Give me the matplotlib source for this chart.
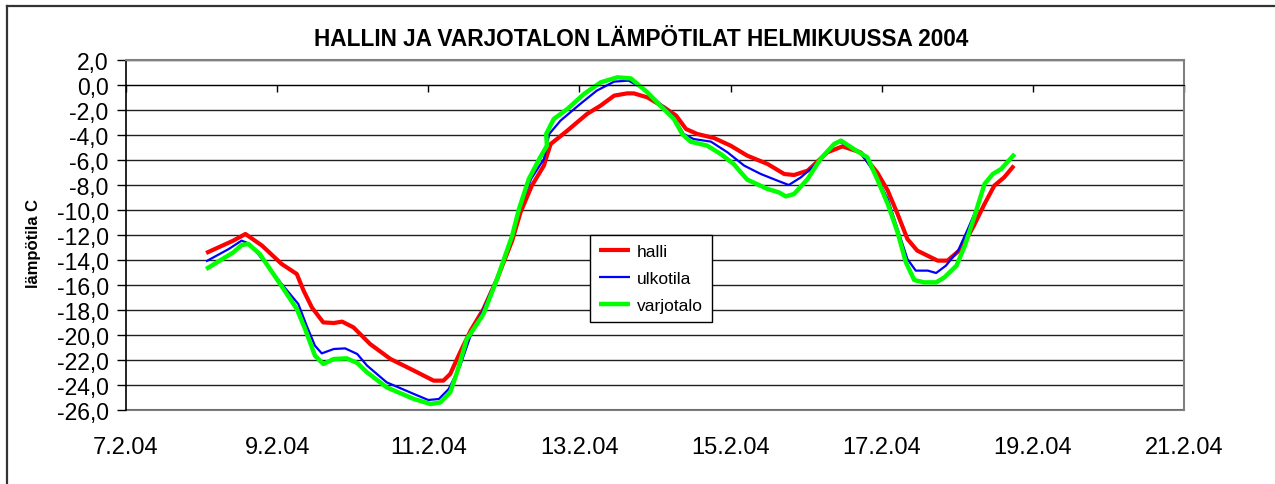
import matplotlib
matplotlib.use("Agg")
import matplotlib.pyplot as plt
from matplotlib.ticker import FuncFormatter
from matplotlib.lines import Line2D

plt.rcParams['font.family'] = ['Liberation Sans', 'DejaVu Sans']
plt.rcParams['axes.unicode_minus'] = False

# x = day of February 2004
halli_x = [8.06, 8.42, 8.58, 8.80, 9.06, 9.26, 9.35, 9.46, 9.61, 9.75, 9.86, 10.01, 10.23, 10.50,
           10.81, 11.07, 11.20, 11.29, 11.42, 11.56, 11.73, 11.91, 12.11, 12.22, 12.37, 12.53,
           12.57, 12.62, 12.84, 13.10, 13.28, 13.46, 13.63, 13.72, 13.90, 14.12, 14.28, 14.41,
           14.56, 14.78, 15.00, 15.22, 15.49, 15.71, 15.84, 16.02, 16.28, 16.48, 16.72, 16.94,
           17.08, 17.21, 17.34, 17.47, 17.74, 17.87, 18.05, 18.22, 18.36, 18.49, 18.62, 18.75]
halli = [-13.44, -12.45, -11.92, -12.85, -14.32, -15.12, -16.45, -17.8, -18.99, -19.04, -18.93,
         -19.39, -20.72, -21.92, -22.85, -23.65, -23.65, -23.12, -21.4, -19.65, -17.92, -15.52,
         -12.45, -10.19, -8.05, -6.45, -5.65, -4.72, -3.65, -2.32, -1.65, -0.85, -0.67, -0.67,
         -0.99, -1.79, -2.45, -3.52, -3.92, -4.24, -4.85, -5.65, -6.32, -7.12, -7.2, -6.85,
         -5.39, -4.91, -5.39, -6.99, -8.45, -10.32, -12.32, -13.25, -14.05, -14.05, -13.12,
         -11.25, -9.52, -8.05, -7.39, -6.45]

ulko_x = [8.06, 8.36, 8.53, 8.64, 8.82, 9.06, 9.28, 9.39, 9.50, 9.59, 9.75, 9.90, 10.06, 10.19,
          10.45, 10.81, 11.00, 11.14, 11.27, 11.42, 11.56, 11.73, 11.91, 12.11, 12.22, 12.36,
          12.53, 12.60, 12.75, 13.01, 13.23, 13.46, 13.65, 13.85, 14.07, 14.25, 14.38, 14.51,
          14.74, 14.96, 15.18, 15.40, 15.62, 15.77, 15.93, 16.11, 16.33, 16.44, 16.72, 16.90,
          17.08, 17.21, 17.34, 17.45, 17.61, 17.72, 17.85, 18.01, 18.14, 18.29]
ulkotila = [-14.11, -13.12, -12.45, -12.72, -14.05, -15.92, -17.52, -19.25, -20.85, -21.47,
            -21.12, -21.07, -21.52, -22.45, -23.79, -24.72, -25.2, -25.12, -24.32, -22.5,
            -20.05, -17.92, -15.4, -12.05, -9.65, -7.52, -5.92, -3.92, -2.85, -1.52, -0.45,
            0.27, 0.35, -0.32, -1.52, -2.59, -3.92, -4.32, -4.53, -5.39, -6.45, -7.12, -7.65,
            -8.0, -7.39, -6.45, -4.91, -4.53, -5.39, -6.99, -9.12, -11.52, -13.92, -14.85,
            -14.85, -15.04, -14.45, -13.25, -11.52, -9.39]

varjo_x = [8.06, 8.42, 8.53, 8.62, 8.77, 9.04, 9.26, 9.37, 9.50, 9.61, 9.75, 9.92, 10.06, 10.19,
           10.45, 10.81, 11.03, 11.16, 11.29, 11.38, 11.51, 11.60, 11.73, 11.91, 12.11, 12.20,
           12.33, 12.48, 12.57, 12.56, 12.66, 12.84, 13.06, 13.28, 13.50, 13.68, 13.90, 14.07,
           14.25, 14.36, 14.47, 14.69, 14.87, 15.04, 15.22, 15.49, 15.64, 15.73, 15.84, 16.02,
           16.19, 16.37, 16.46, 16.63, 16.81, 16.94, 17.08, 17.21, 17.32, 17.43, 17.56, 17.72,
           17.83, 17.99, 18.10, 18.23, 18.36, 18.47, 18.58, 18.76]
varjotalo = [-14.72, -13.39, -12.8, -12.72, -13.52, -15.92, -17.92, -19.52, -21.65, -22.32,
             -21.92, -21.87, -22.24, -22.99, -24.19, -25.12, -25.52, -25.39, -24.59, -22.99,
             -20.32, -19.52, -18.32, -15.52, -12.05, -9.92, -7.52, -5.79, -4.85, -3.92, -2.72,
             -1.92, -0.72, 0.21, 0.61, 0.53, -0.59, -1.65, -2.72, -3.92, -4.53, -4.85, -5.52,
             -6.32, -7.57, -8.32, -8.59, -8.91, -8.72, -7.52, -5.92, -4.72, -4.45, -5.12, -5.79,
             -7.52, -9.52, -11.79, -14.19, -15.6, -15.79, -15.79, -15.39, -14.45, -12.85,
             -10.45, -7.92, -7.12, -6.72, -5.52]

x_ticks = [7, 9, 11, 13, 15, 17, 19, 21]
x_labels = ["%d.2.04" % d for d in x_ticks]
y_ticks = list(range(-26, 3, 2))

fig = plt.figure(figsize=(12.75, 4.85), dpi=100)
ax = fig.add_axes([126 / 1275, 1 - 411 / 485, 1058 / 1275, 350 / 485])

ax.plot(halli_x, halli, color='#ff0000', lw=3.0, label='halli', solid_capstyle='butt')
ax.plot(ulko_x, ulkotila, color='#0000ff', lw=1.6, label='ulkotila', solid_capstyle='butt')
ax.plot(varjo_x, varjotalo, color='#00ff00', lw=3.2, label='varjotalo', solid_capstyle='butt')

ax.set_xlim(7, 21)
ax.set_ylim(-26, 2)
ax.set_yticks(y_ticks)
ax.yaxis.set_major_formatter(FuncFormatter(lambda v, p: ("%.1f" % v).replace('.', ',')))
ax.grid(axis='y', color='#202020', lw=1.0)
ax.grid(axis='x', visible=False)
ax.tick_params(axis='y', direction='out', length=6.5, width=1, pad=6, labelsize=16.5,
               color='black')

# x axis crosses at 0 (ticks only), labels below the plot
ax.spines['bottom'].set_position(('data', 0))
ax.spines['bottom'].set_color('black')
ax.set_xticks(x_ticks)
ax.tick_params(axis='x', direction='out', length=5, width=1, labelbottom=False)
ax.spines['left'].set_color('black')
ax.spines['left'].set_linewidth(1.2)
for s in ['top', 'right']:
    ax.spines[s].set_color('#808080')
    ax.spines[s].set_linewidth(1.5)

sec = ax.secondary_xaxis('bottom')
sec.set_xticks(x_ticks)
sec.set_xticklabels(x_labels)
sec.tick_params(length=0, pad=19, labelsize=17)
sec.spines['bottom'].set_color('#808080')
sec.spines['bottom'].set_linewidth(1.5)

ax.set_ylabel('lämpötila C', fontsize=12, fontweight='bold')
ax.yaxis.set_label_coords(-0.08, 0.48)

fig.text(0.503, 1 - 40 / 485, 'HALLIN JA VARJOTALON LÄMPÖTILAT HELMIKUUSSA 2004',
         ha='center', va='center', fontsize=16.3, fontweight='bold')

leg = ax.legend(loc='upper left', bbox_to_anchor=(0.4386, 0.5), fontsize=12.5,
                fancybox=False, edgecolor='black', framealpha=1, handlelength=1.8,
                handletextpad=0.4, labelspacing=0.7, borderpad=0.5, borderaxespad=0)
leg.get_frame().set_linewidth(1.0)

# outer chart frame (top and left edges visible)
fig.add_artist(Line2D([7 / 1275, 1.01], [1 - 7 / 485] * 2, transform=fig.transFigure,
                      color='#333333', lw=1.6))
fig.add_artist(Line2D([7 / 1275] * 2, [-0.01, 1 - 7 / 485], transform=fig.transFigure,
                      color='#333333', lw=1.6))

fig.savefig('out.png', dpi=100)
